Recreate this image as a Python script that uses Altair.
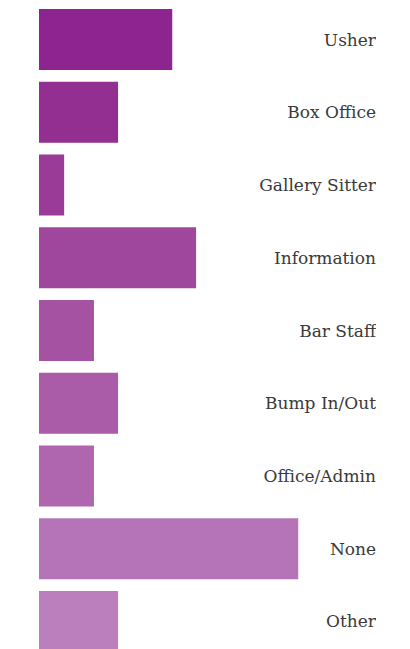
import altair as alt
import pandas as pd

categories = ["Usher", "Box Office", "Gallery Sitter", "Information", "Bar Staff",
              "Bump In/Out", "Office/Admin", "None", "Other"]
values = [5.14, 3.05, 0.97, 6.06, 2.12, 3.05, 2.12, 10.0, 3.05]
colors = ["#8E2490", "#942F92", "#9A3B98", "#9F479C", "#A552A2",
          "#AA5CA8", "#B066AE", "#B574B7", "#BC7FBD"]

df = pd.DataFrame({"role": categories, "count": values, "color": colors})

W = 337
H = 643

base = alt.Chart(df)

bars = base.mark_bar().encode(
    x=alt.X("count:Q", scale=alt.Scale(domain=[0, 13], nice=False), axis=None),
    y=alt.Y("role:N", sort=categories,
            scale=alt.Scale(paddingInner=0.16, paddingOuter=0), axis=None),
    color=alt.Color("color:N", scale=None),
)

labels = base.mark_text(align="right", baseline="middle", font="DejaVu Serif",
                        fontSize=17, color="#3a3a3a", dy=1).encode(
    x=alt.value(W),
    y=alt.Y("role:N", sort=categories),
    text="role:N",
)

chart = alt.layer(bars, labels).properties(
    width=W, height=H,
    autosize=alt.AutoSizeParams(type="none"),
    padding={"left": 31, "top": 1, "right": 0, "bottom": 0},
).configure_view(stroke=None)

chart.save("out.html", embed_options={"renderer": "svg", "actions": False})
